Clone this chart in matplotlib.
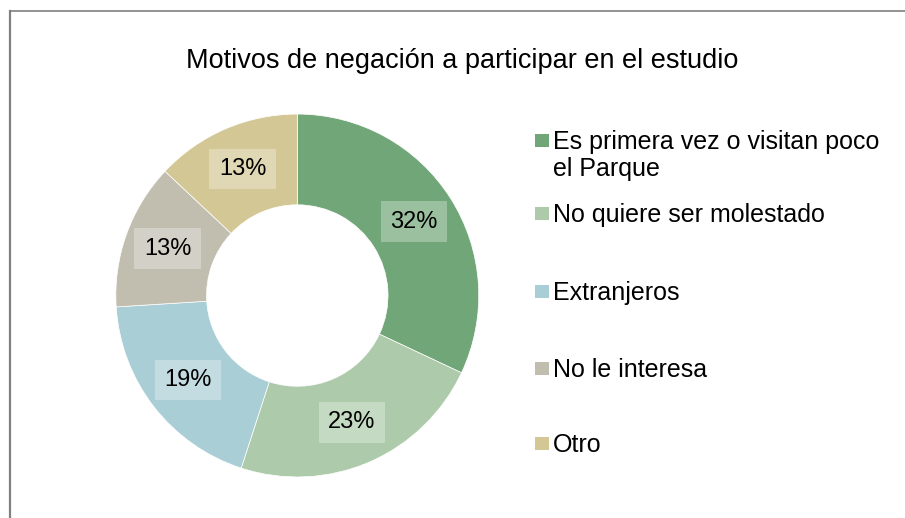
import matplotlib
matplotlib.use("Agg")
from matplotlib import pyplot as plt
from matplotlib.patches import Rectangle
from matplotlib.lines import Line2D
import numpy as np

plt.rcParams['font.family'] = ['Liberation Sans', 'DejaVu Sans']

title = 'Motivos de negación a participar en el estudio'
labels = ['Es primera vez o visitan poco\nel Parque', 'No quiere ser molestado',
          'Extranjeros', 'No le interesa', 'Otro']
values = [32, 23, 19, 13, 13]
colors = ['#70a678', '#adcbaa', '#a9ced6', '#c1beb0', '#d3c795']

fig = plt.figure(figsize=(9.05, 5.18), dpi=100)

# outer border (only top and left visible in the original)
fig.add_artist(Line2D([0.0105, 1.0], [0.9785, 0.9785], color='#808080', lw=1.2,
                      transform=fig.transFigure))
fig.add_artist(Line2D([0.0105, 0.0105], [0.0, 0.9785], color='#808080', lw=1.6,
                      transform=fig.transFigure))

fig.text(0.511, 0.882, title, ha='center', va='center', fontsize=19.5)

ax = fig.add_axes([0.128, 0.079, 0.401, 0.701])
wedges, texts = ax.pie(values, colors=colors, startangle=90, counterclock=False,
                       radius=1.0, wedgeprops=dict(width=0.5, edgecolor='white', linewidth=0.5))
for w, v in zip(wedges, values):
    ang = np.deg2rad((w.theta1 + w.theta2) / 2)
    r = 0.76
    ax.text(r * np.cos(ang), r * np.sin(ang), '%d%%' % v, ha='center', va='center',
            fontsize=17,
            bbox=dict(boxstyle='square,pad=0.4', facecolor='white', alpha=0.3, edgecolor='none'))
ax.set_xlim(-1, 1)
ax.set_ylim(-1, 1)
ax.set_aspect('equal')
ax.axis('off')

# legend, drawn by hand so the square lines up with the first text line
H = 518.0
leg_y = [140, 213, 291, 368, 443]   # pixel rows of first text line centres
for lab, col, yp in zip(labels, colors, leg_y):
    y = 1 - yp / H
    fig.add_artist(Rectangle((0.591, y - 6.5 / H), 0.0155, 13 / H, facecolor=col,
                             edgecolor='none', transform=fig.transFigure))
    for k, line in enumerate(lab.split('\n')):
        fig.text(0.611, 1 - (yp + 9.0 + 27 * k) / H, line, ha='left', va='baseline',
                 fontsize=18)

fig.savefig('out.png', dpi=100)
